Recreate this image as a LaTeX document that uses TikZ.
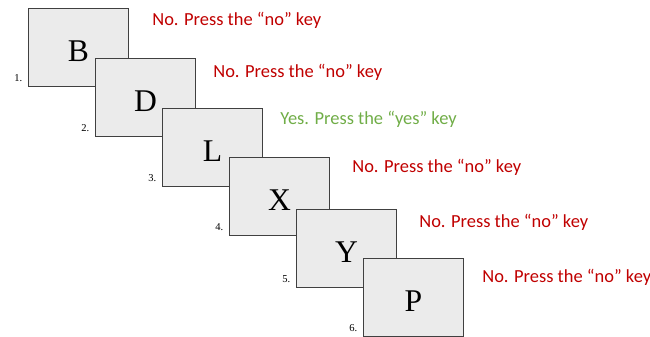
\documentclass[tikz,border=0pt]{standalone}
\usepackage{fontspec}
\setmainfont{Liberation Serif}
\newfontfamily\keyfont{Carlito}
\definecolor{nored}{HTML}{C00000}
\definecolor{yesgreen}{HTML}{70AD47}
\definecolor{cardgray}{HTML}{EBEBEB}
\begin{document}
\begin{tikzpicture}[x=0.02cm,y=-0.02cm,
    card/.style={draw=black!75,fill=cardgray,line width=0.6pt,minimum width=2cm,minimum height=1.56cm,
      anchor=north west,inner sep=0pt,text height=0.56cm,text depth=0pt,font=\fontsize{18}{18}\selectfont},
    numlbl/.style={anchor=south east,inner sep=0pt,xshift=-3pt,yshift=3pt,font=\fontsize{6}{6}\selectfont},
    answer/.style={anchor=west,inner sep=0pt,font=\keyfont\fontsize{10.5}{12}\selectfont}]
    \useasboundingbox (0,0) rectangle (650,337);
    \node[card,label={[numlbl]south west:1.}] (b) at (28,8) {B};
    \node[card,label={[numlbl]south west:2.}] (d) at (95,58) {D};
    \node[card,label={[numlbl]south west:3.}] (l) at (162,108) {L};
    \node[card,label={[numlbl]south west:4.}] (x) at (229,157) {X};
    \node[card,label={[numlbl]south west:5.}] (y) at (296,209) {Y};
    \node[card,label={[numlbl]south west:6.}] (p) at (363,258) {P};
    \node[answer,nored] (ansb) at (152,20) {No. Press the “no” key};
    \node[answer,nored] (ansd) at (213,72) {No. Press the “no” key};
    \node[answer,yesgreen] (ansl) at (280,119) {Yes. Press the “yes” key};
    \node[answer,nored] (ansx) at (352,167) {No. Press the “no” key};
    \node[answer,nored] (ansy) at (419,222) {No. Press the “no” key};
    \node[answer,nored] (ansp) at (482,277) {No. Press the “no” key};
\end{tikzpicture}
\end{document}
